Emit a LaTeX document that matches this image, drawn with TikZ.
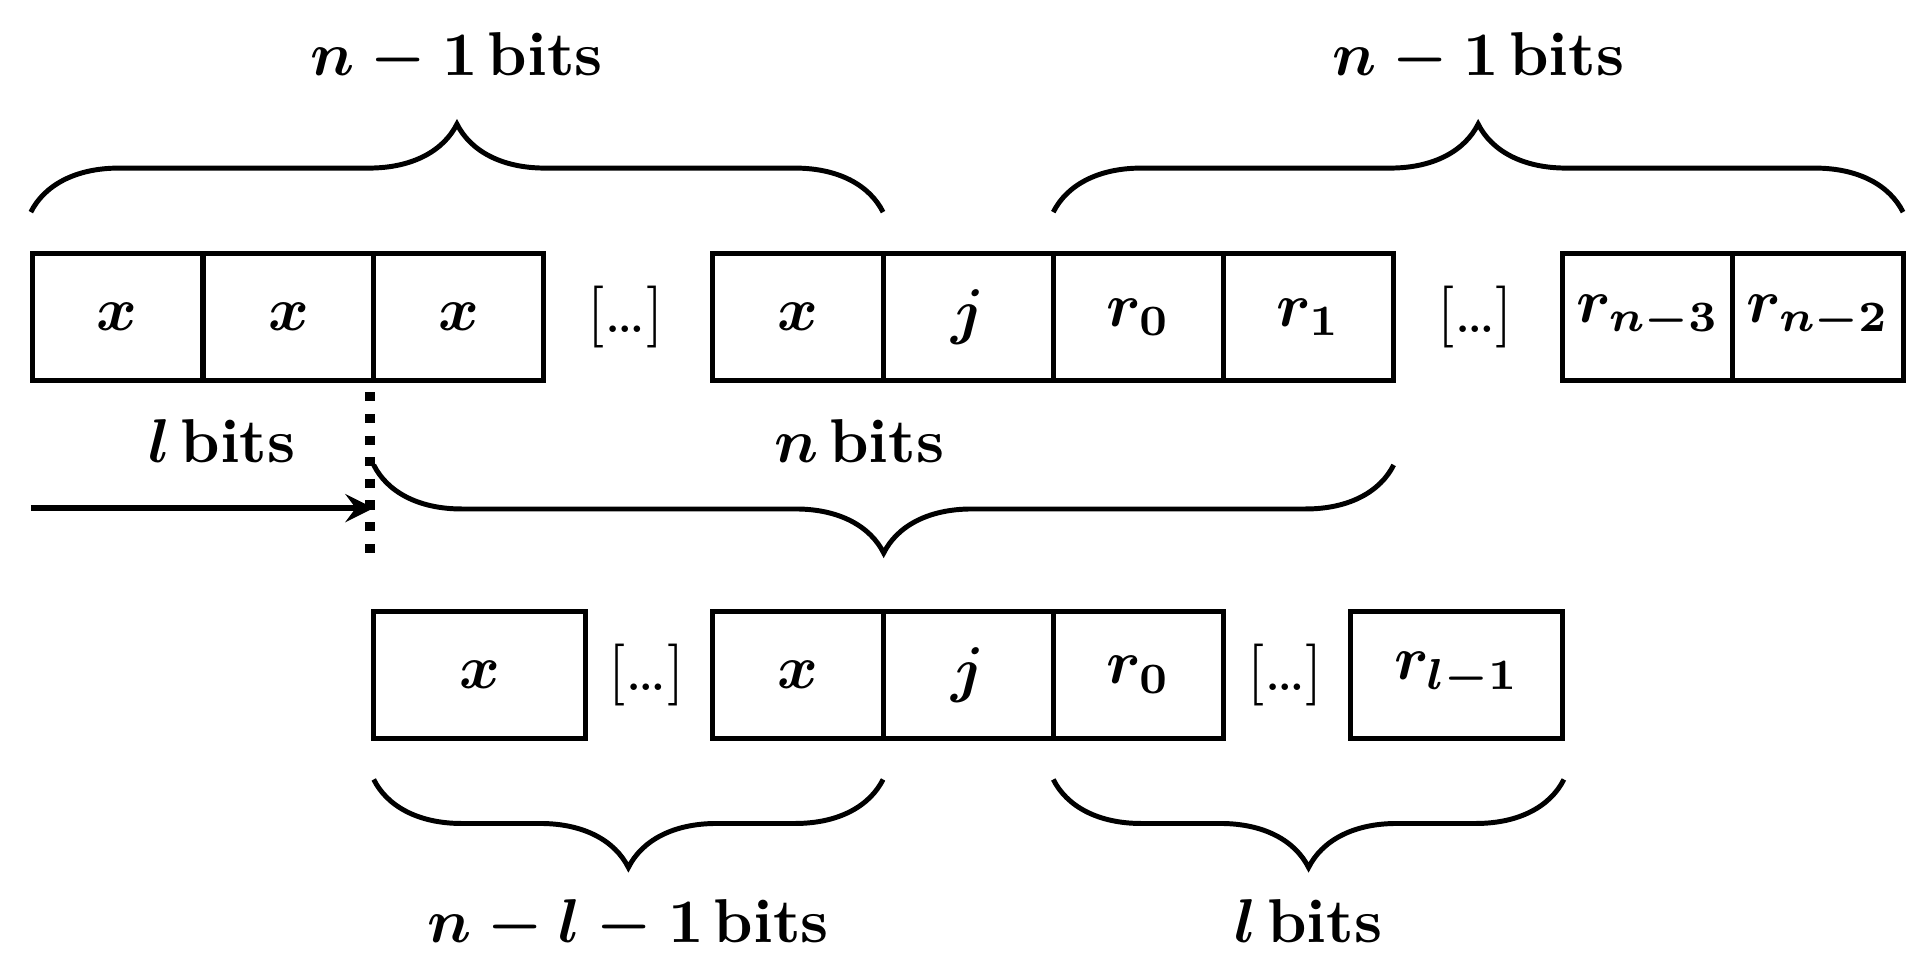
\documentclass[tikz,border=0pt]{standalone}
\usetikzlibrary{decorations.pathreplacing}
\begin{document}
\begin{tikzpicture}[x=0.007cm,y=-0.007cm,line width=0.8pt,every node/.style={font=\bfseries\boldmath}]

  \tikzstyle{cell}=[draw,minimum width=0.966cm,minimum height=0.721cm,inner sep=0pt]
  \tikzstyle{wide}=[cell,minimum width=1.204cm]
  \tikzstyle{gap}=[inner sep=1pt,font=\normalfont]
  \tikzstyle{brace}=[decorate,decoration={brace,amplitude=0.5cm}]

  \useasboundingbox (0,0) rectangle (1560,788);

  % top row
  \foreach \name/\x/\text in {T-1/95/x, T-2/234/x, T-3/372/x, T-4/647/x,
                              T-5/785/j, T-6/923/r_0, T-7/1061/r_1,
                              T-8/1336/r_{n-3}, T-9/1474/r_{n-2}}
    \node[cell] (\name) at (\x,257) {\(\text\)};
  \node[gap] (T-d1) at (507,257) {[\dots]};
  \node[gap] (T-d2) at (1196,257) {[\dots]};

  % bottom row
  \node[wide] (B-1) at (389,547) {\(x\)};
  \node[gap] (B-d1) at (524,547) {[\dots]};
  \foreach \name/\x/\text in {B-2/647/x, B-3/785/j, B-4/923/r_0}
    \node[cell] (\name) at (\x,547) {\(\text\)};
  \node[gap] (B-d2) at (1042,547) {[\dots]};
  \node[wide] (B-5) at (1181,547) {\(r_{l-1}\)};

  % braces
  \draw[brace] (25,172) -- (716,172) node[midway,above=0.6cm] {\(n-1\)\,bits};
  \draw[brace] (854,172) -- (1543,172) node[midway,above=0.6cm] {\(n-1\)\,bits};
  \draw[brace] (1130,377) -- (303,377);
  \node (nb) at (697,358) {\(n\)\,bits};
  \node (lb) at (180,358) {\(l\)\,bits};
  \draw[brace] (716,632) -- (303,632) node[midway,below=0.55cm] {\(n-l-1\)\,bits};
  \draw[brace] (1268,632) -- (854,632) node[midway,below=0.55cm] {\(l\)\,bits};

  % shift
  \coordinate (s0) at (25,412);
  \coordinate (s1) at (303,412);
  \draw[-stealth,line width=1pt] (s0) -- (s1);
  \draw[line width=1.5pt,dotted] (300,318) -- (300,448);
\end{tikzpicture}
\end{document}
